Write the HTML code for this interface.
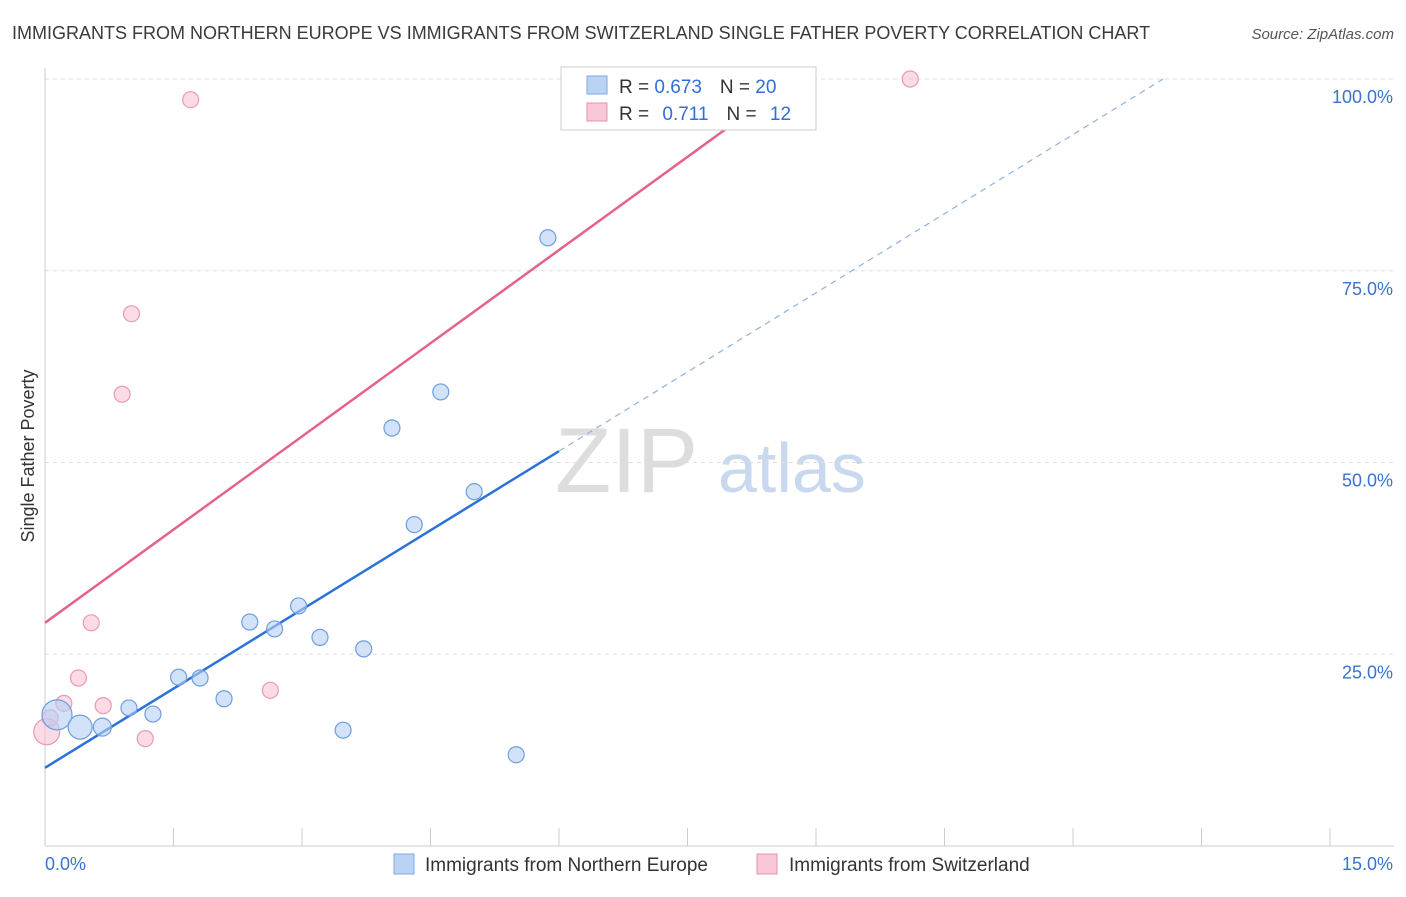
<!DOCTYPE html>
<html><head><meta charset="utf-8"><style>
body{margin:0;background:#fff;font-family:"Liberation Sans",sans-serif;}
svg text{font-family:"Liberation Sans",sans-serif;}
</style></head><body>
<svg id="c" width="1406" height="892">
<text x="12" y="39" font-size="18" fill="#3a3a3a">IMMIGRANTS FROM NORTHERN EUROPE VS IMMIGRANTS FROM SWITZERLAND SINGLE FATHER POVERTY CORRELATION CHART</text>
<text x="1394" y="39" font-size="15" fill="#555" text-anchor="end" font-style="italic">Source: ZipAtlas.com</text>
<text x="34" y="456" font-size="18" fill="#333" transform="rotate(-90 34 456)" text-anchor="middle">Single Father Poverty</text>
<text x="555" y="492" font-size="92" fill="#ddd" font-family="Liberation Serif">ZIP</text>
<text x="718" y="492" font-size="70" fill="#c8d9ef">atlas</text>
<g id="grid"></g><g id="lines"></g><g id="pts"></g>
<g>
<rect x="561" y="67" width="255" height="63" fill="#fff" stroke="#ccc"/>
<rect x="587" y="76" width="20" height="18" fill="#b9d3f5" stroke="#7ea8e0"/>
<text x="619" y="93" font-size="19" fill="#333">R = <tspan fill="#2f6fd6">0.673</tspan><tspan dx="18" fill="#333">N = </tspan><tspan fill="#2f6fd6">20</tspan></text>
<rect x="587" y="103" width="20" height="18" fill="#f9c8d6" stroke="#e891ab"/>
<text x="619" y="120" font-size="19" fill="#333">R = <tspan dx="8" fill="#2f6fd6">0.711</tspan><tspan dx="18" fill="#333">N = </tspan><tspan dx="8" fill="#2f6fd6">12</tspan></text>
</g>
<g>
<rect x="394" y="854" width="20" height="20" fill="#b9d3f5" stroke="#7ea8e0"/>
<text x="425" y="871" font-size="19" fill="#333">Immigrants from Northern Europe</text>
<rect x="757" y="854" width="20" height="20" fill="#f9c8d6" stroke="#e891ab"/>
<text x="789" y="871" font-size="19" fill="#333">Immigrants from Switzerland</text>
</g>
</svg>
<script>
const blueX=[0.14,0.41,0.67,0.98,1.26,1.56,1.81,2.09,2.39,2.68,2.96,3.21,3.72,3.48,4.05,4.31,4.62,5.01,5.50,5.87];
const blueY=[17.1,15.5,15.5,18.0,17.2,22.0,21.9,19.2,29.2,28.3,31.3,27.2,25.7,15.1,54.5,41.9,59.2,46.2,11.9,79.3];
const blueSize=[15,12,9,8,8,8,8,8,8,8,8,8,8,8,8,8,8,8,8,8];
const pinkX=[0.02,0.22,0.39,0.54,0.68,0.90,1.01,1.17,1.70,2.63,10.1,0.06];
const pinkY=[14.9,18.6,21.9,29.1,18.3,58.9,69.4,14.0,97.3,20.3,100,16.7];
const pinkSize=[13,8,8,8,8,8,8,8,8,8,8,8];
const blueFit=[10.2,6.88]; const pinkFit=[29.1,8.1];
const yTicks=[25,50,75,100]; const yTickLabels=["25.0%","50.0%","75.0%","100.0%"];
const xTickLabels=["0.0%","15.0%"];
const X=v=>45+v/15*1285, Y=v=>846-v*7.67;
const NS="http://www.w3.org/2000/svg";
function mk(p,t,a){const e=document.createElementNS(NS,t);for(const k in a)e.setAttribute(k,a[k]);p.appendChild(e);return e;}
const g=document.getElementById('grid');
yTicks.forEach((t,i)=>{
 const l=mk(g,'line',{x1:45,x2:1394,y1:Y(t),y2:Y(t),stroke:'#ddd','stroke-dasharray':'4 4'});
 
 
 const tx=mk(g,'text',{x:1393,y:Y(t)+24,'font-size':18,fill:'#3a72d0','text-anchor':'end'});tx.textContent=yTickLabels[i];
 
 
});
mk(g,'line',{x1:45,x2:45,y1:68,y2:846,stroke:'#ccc'});
mk(g,'line',{x1:45,x2:1394,y1:846,y2:846,stroke:'#ccc'});
for(let i=0;i<=10;i++){mk(g,'line',{x1:X(i*1.5),x2:X(i*1.5),y1:828,y2:846,stroke:'#ccc'});}
const xl0=mk(g,'text',{x:45,y:870,'font-size':18,fill:'#3a72d0'});xl0.textContent=xTickLabels[0];


const xl1=mk(g,'text',{x:1393,y:870,'font-size':18,fill:'#3a72d0','text-anchor':'end'});xl1.textContent=xTickLabels[1];


const L=document.getElementById('lines');
const bx1=6,bx2=(100-blueFit[0])/blueFit[1];
const b1=mk(L,'line',{x1:X(0),y1:Y(blueFit[0]),x2:X(bx1),y2:Y(blueFit[0]+blueFit[1]*bx1),stroke:'#2a72d8','stroke-width':2.5});


const b2=mk(L,'line',{x1:X(bx1),y1:Y(blueFit[0]+blueFit[1]*bx1),x2:X(bx2),y2:Y(100),stroke:'#8fb2e0','stroke-width':1.2,'stroke-dasharray':'6 5'});


const px2=(100-pinkFit[0])/pinkFit[1];
const p1=mk(L,'line',{x1:X(0),y1:Y(pinkFit[0]),x2:X(px2),y2:Y(100),stroke:'#e5628a','stroke-width':2.5});


const P=document.getElementById('pts');
pinkX.forEach((x,i)=>{const c=mk(P,'circle',{cx:X(x),cy:Y(pinkY[i]),r:pinkSize[i],fill:'rgba(248,190,208,0.55)',stroke:'#eb9ab3','stroke-width':1.2});
 
 });
blueX.forEach((x,i)=>{const c=mk(P,'circle',{cx:X(x),cy:Y(blueY[i]),r:blueSize[i],fill:'rgba(180,206,243,0.6)',stroke:'#6e9edd','stroke-width':1.2});
 
 });
</script>
</body></html>
